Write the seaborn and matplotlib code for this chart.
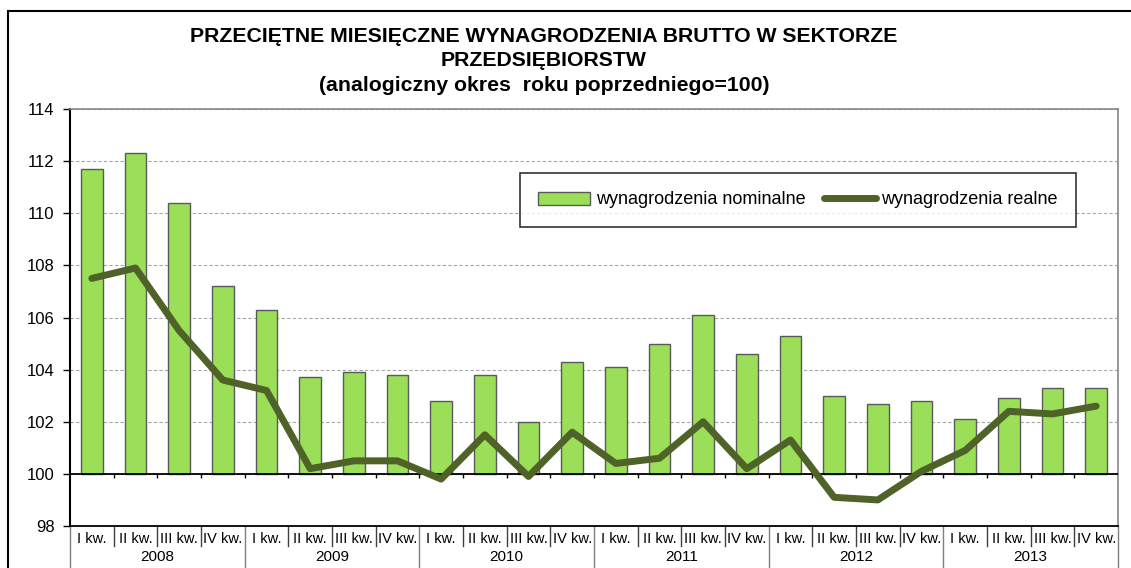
import numpy as np
import pandas as pd
import matplotlib
matplotlib.use("Agg")
import matplotlib.pyplot as plt
from matplotlib.patches import Patch, Rectangle
from matplotlib.lines import Line2D
import seaborn as sns

# quarters 2008-2013, same period of previous year = 100
years = ["2008", "2009", "2010", "2011", "2012", "2013"]
quarters = ["I kw.", "II kw.", "III kw.", "IV kw."]
nominal = [111.7, 112.3, 110.4, 107.2, 106.3, 103.7, 103.9, 103.8,
           102.8, 103.8, 102.0, 104.3, 104.1, 105.0, 106.1, 104.6,
           105.3, 103.0, 102.7, 102.8, 102.1, 102.9, 103.3, 103.3]
real = [107.5, 107.9, 105.5, 103.6, 103.2, 100.2, 100.5, 100.5,
        99.8, 101.5, 99.9, 101.6, 100.4, 100.6, 102.0, 100.2,
        101.3, 99.1, 99.0, 100.1, 100.9, 102.4, 102.3, 102.6]

plt.rcParams["font.family"] = ["Liberation Sans", "DejaVu Sans"]

df = pd.DataFrame({
    "pos": np.arange(len(nominal)),
    "quarter": quarters * len(years),
    "nominal": nominal,
    "real": real,
})
# bars grow from the 100 line
df["nominal_rise"] = df["nominal"] - 100

bar_color = "#9BDE57"
line_color = "#4F6228"

W, H = 1131, 568
fig = plt.figure(figsize=(W / 100, H / 100), dpi=100)
ax = fig.add_axes([70 / W, 1 - 526 / H, (1118 - 70) / W, (526 - 109) / H])

sns.barplot(data=df, x="pos", y="nominal_rise", bottom=100, color=bar_color,
            edgecolor="#5A5A5A", linewidth=1, width=0.5, saturation=1,
            ax=ax, zorder=2)
sns.lineplot(data=df, x="pos", y="real", color=line_color, linewidth=5,
             ax=ax, zorder=4, solid_capstyle="round")

ax.set_xlim(-0.5, len(nominal) - 0.5)
ax.set_ylim(98, 114)
ax.set_yticks(np.arange(98, 115, 2))
ax.set_xlabel("")
ax.set_ylabel("")

# grid and the 100 line with small ticks between quarters
ax.grid(axis="y", color="#A6A6A6", linestyle=(0, (3, 2)), linewidth=0.8, zorder=0)
ax.set_axisbelow(True)
ax.axhline(100, color="black", linewidth=1.3, zorder=3)
ax.vlines(np.arange(0.5, len(nominal) - 1, 1), 100 - 4 / 26, 100,
          color="black", linewidth=1, zorder=3)

for side in ["top", "right"]:
    ax.spines[side].set_color("#868686")
    ax.spines[side].set_linewidth(1.2)
ax.spines["left"].set_linewidth(1.5)
ax.spines["bottom"].set_linewidth(1.3)

ax.tick_params(axis="y", direction="out", length=5, width=1, labelsize=12, pad=6)
ax.set_xticks(df["pos"])
ax.set_xticklabels(df["quarter"], fontsize=10.5)
ax.tick_params(axis="x", length=0, pad=4)

# category separators and year labels under the axis
trans = ax.get_xaxis_transform()
axh = 526 - 109
for i in range(len(nominal) + 1):
    edge = i - 0.5
    if i % 4 == 0:
        ax.plot([edge, edge], [0, -44 / axh], transform=trans, clip_on=False,
                color="#7F7F7F", linewidth=1)
    else:
        ax.plot([edge, edge], [0, -20 / axh], transform=trans, clip_on=False,
                color="#404040", linewidth=1)
for k, yr in enumerate(years):
    ax.text(4 * k + 1.5, -31 / axh, yr, transform=trans, ha="center",
            va="center", fontsize=11)

# legend
handles = [
    Patch(facecolor=bar_color, edgecolor="#5A5A5A", linewidth=1),
    Line2D([0], [0], color=line_color, linewidth=5, solid_capstyle="round"),
]
labels = ["wynagrodzenia nominalne", "wynagrodzenia realne"]
leg = fig.legend(handles, labels, loc="center", bbox_to_anchor=(798 / W, 1 - 200 / H),
                 ncol=2, frameon=True, fancybox=False, edgecolor="black",
                 fontsize=13, handlelength=2.9, handletextpad=0.3,
                 columnspacing=1.0, borderpad=1.0)
leg.get_frame().set_linewidth(1.2)

fig.text(544 / W, 1 - 61 / H,
         "PRZECIĘTNE MIESIĘCZNE WYNAGRODZENIA BRUTTO W SEKTORZE\n"
         "PRZEDSIĘBIORSTW\n"
         "(analogiczny okres  roku poprzedniego=100)",
         ha="center", va="center", fontsize=15.3, fontweight="bold", linespacing=1.36)

# outer chart frame (cut off at right and bottom)
fig.add_artist(Rectangle((8 / W, -0.2), 2, 1.2 - 11 / H, transform=fig.transFigure,
                         fill=False, edgecolor="black", linewidth=1.5))

fig.savefig("out.png", dpi=100)
